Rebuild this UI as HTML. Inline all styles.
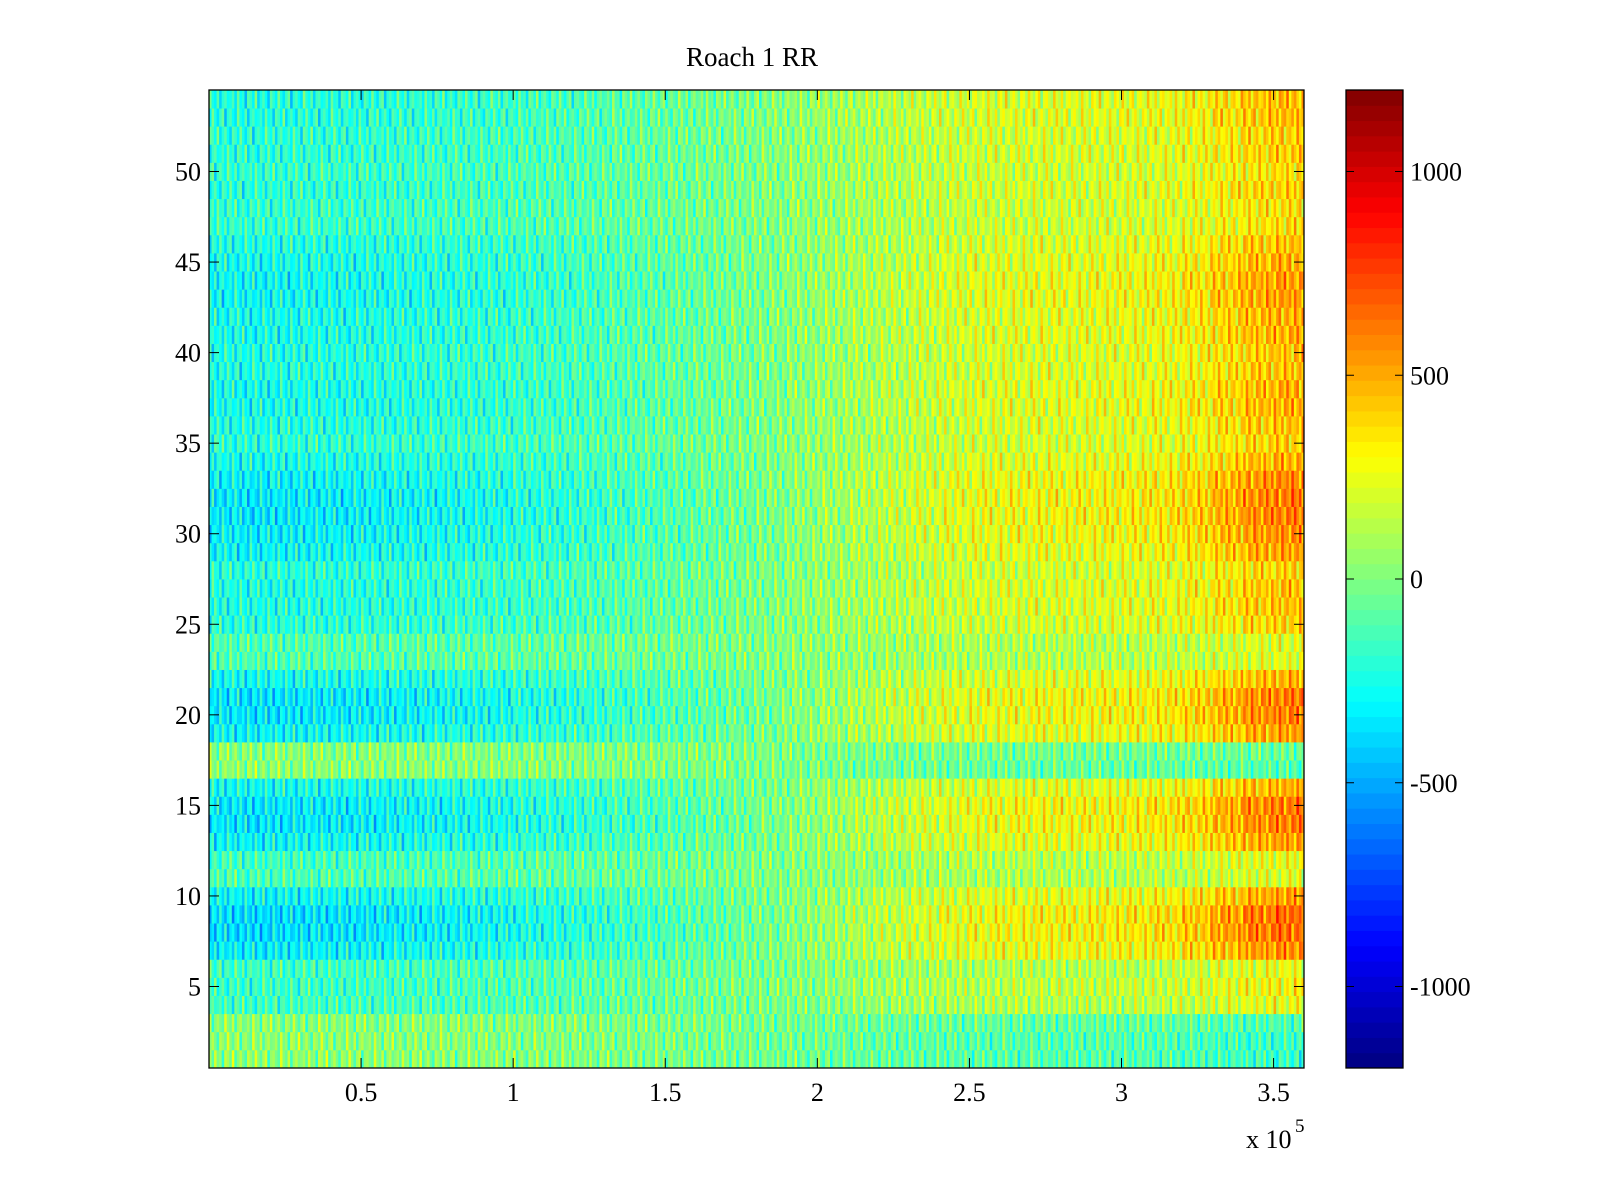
<!DOCTYPE html>
<html><head><meta charset="utf-8"><style>
html,body{margin:0;padding:0;background:#fff;width:1600px;height:1200px;overflow:hidden}
svg{position:absolute;left:0;top:0}
text{font-family:"Liberation Serif",serif;font-size:26px;fill:#000}
</style></head><body>
<svg id="chart" width="1600" height="1200" xmlns="http://www.w3.org/2000/svg">
<text x="752" y="66" text-anchor="middle" style="font-size:27px">Roach 1 RR</text>
<g id="cells"></g>
<g id="cbar"></g>
<g id="axes"></g>
<text x="1246" y="1148">x 10</text>
<text x="1295" y="1132" style="font-size:19px">5</text>
</svg>
<script>
// column trend per 0.1e5 band (value units)
const colTrend=[-230,-240,-230,-220,-220,-210,-200,-190,-180,-170,-150,-140,-120,-100,-80,-60,-40,-20,0,30,60,90,120,150,180,200,210,220,220,230,240,260,300,360,420,450];
// row gain, bottom row (1) first
const rowGain=[-0.3,-0.3,-0.2,0.6,0.7,0.6,1.3,1.5,1.5,1.2,0.5,0.6,1.2,1.4,1.4,1.1,-0.2,-0.1,1.2,1.4,1.4,1.1,0.5,0.5,0.9,1.0,1.0,0.9,1.2,1.3,1.4,1.4,1.3,1.1,0.9,1.0,1.1,1.1,1.0,1.0,1.1,1.1,1.2,1.2,1.1,1.0,0.8,0.8,0.9,0.8,0.9,0.9,1.0,1.0];
// row offset
const rowOffset=[-40,-40,-30,-20,-10,-20,-20,-30,-30,-20,-10,-10,-20,-30,-20,-20,-20,-10,-20,-30,-30,-20,0,0,-10,-10,-10,-10,-20,-20,-20,-20,-10,-10,0,-10,-10,-10,-10,-10,-10,-10,-10,-10,-10,-10,0,0,0,0,0,0,0,0];
// fine stripe texture (value units), cycled across narrow columns
const texture=[80,-120,180,-40,20,-220,140,60,-80,240,-160,0,100,-60,-180,120,40,-100,200,-20,-140,60,160,-240,20,80,-40,-120,220,0,-80,140,-180,40,100,-60,-20];
const xTicks=[0.5,1,1.5,2,2.5,3,3.5], xTickLabels=["0.5","1","1.5","2","2.5","3","3.5"];
const yTicks=[5,10,15,20,25,30,35,40,45,50];
const cTicks=[-1000,-500,0,500,1000];
const cMin=-1200,cMax=1200;

const L=209,R=1304,T=90,B=1068;
const xs=v=>L+(v-0)/(3.6)*(R-L);
const ys=v=>B-(v-0.5)/54*(B-T);
const CL=1346,CR=1403;
const cs=v=>B-(v-cMin)/(cMax-cMin)*(B-T);
function jet(t){t=Math.max(0,Math.min(1,t));
 const f=x=>Math.max(0,Math.min(1,x));
 const r=f(1.5-Math.abs(4*t-3)),g=f(1.5-Math.abs(4*t-2)),b=f(1.5-Math.abs(4*t-1));
 return `rgb(${Math.round(r*255)},${Math.round(g*255)},${Math.round(b*255)})`;}
function q(v){const n=Math.floor((v-cMin)/(cMax-cMin)*64);return jet((Math.max(0,Math.min(63,n))+0.5)/64);}
const NS="http://www.w3.org/2000/svg";
const cells=document.getElementById('cells');
const sub=12;
for(let r=0;r<rowGain.length;r++){
 for(let c=0;c<colTrend.length;c++){
  for(let s=0;s<sub;s++){
   const x0=xs((c+s/sub)*0.1),x1=xs((c+(s+1)/sub)*0.1);
   const v=rowOffset[r]+rowGain[r]*colTrend[c]+texture[(c*sub+s+r*11)%texture.length];
   const e=document.createElementNS(NS,'rect');
   
   
   e.setAttribute('x',x0.toFixed(2));e.setAttribute('y',ys(r+1.5).toFixed(2));
   e.setAttribute('width',(x1-x0+0.4).toFixed(2));e.setAttribute('height',((B-T)/54+0.4).toFixed(2));
   e.setAttribute('fill',q(v));cells.appendChild(e);
  }}}
const cb=document.getElementById('cbar');
for(let i=0;i<64;i++){
 const v0=cMin+i*(cMax-cMin)/64,v1=cMin+(i+1)*(cMax-cMin)/64;
 const e=document.createElementNS(NS,'rect');
 
 
 e.setAttribute('x',CL);e.setAttribute('y',cs(v1));e.setAttribute('width',CR-CL);e.setAttribute('height',cs(v0)-cs(v1)+0.5);
 e.setAttribute('fill',jet((i+0.5)/64));cb.appendChild(e);
}
let h='';
h+=`<rect x="${L}" y="${T}" width="${R-L}" height="${B-T}" fill="none" stroke="#000" stroke-width="1.3"/>`;
h+=`<rect x="${CL}" y="${T}" width="${CR-CL}" height="${B-T}" fill="none" stroke="#000" stroke-width="1.3"/>`;
xTicks.forEach((t,i)=>{const x=xs(t);
 h+=`<line x1="${x}" y1="${B}" x2="${x}" y2="${B-10}" stroke="#000"/><line x1="${x}" y1="${T}" x2="${x}" y2="${T+10}" stroke="#000"/>`;
 h+=`<text x="${x}" y="${B+33}" text-anchor="middle">${xTickLabels[i]}</text>`;});
yTicks.forEach(t=>{const y=ys(t);
 h+=`<line x1="${L}" y1="${y}" x2="${L+10}" y2="${y}" stroke="#000"/><line x1="${R}" y1="${y}" x2="${R-10}" y2="${y}" stroke="#000"/>`;
 h+=`<text x="${L-8}" y="${y+9}" text-anchor="end">${t}</text>`;});
cTicks.forEach(t=>{const y=cs(t);
 h+=`<line x1="${CL}" y1="${y}" x2="${CL+8}" y2="${y}" stroke="#000"/><line x1="${CR}" y1="${y}" x2="${CR-8}" y2="${y}" stroke="#000"/>`;
 h+=`<text x="${CR+7}" y="${y+9}">${t}</text>`;});
document.getElementById('axes').innerHTML=h;
</script>
</body></html>
